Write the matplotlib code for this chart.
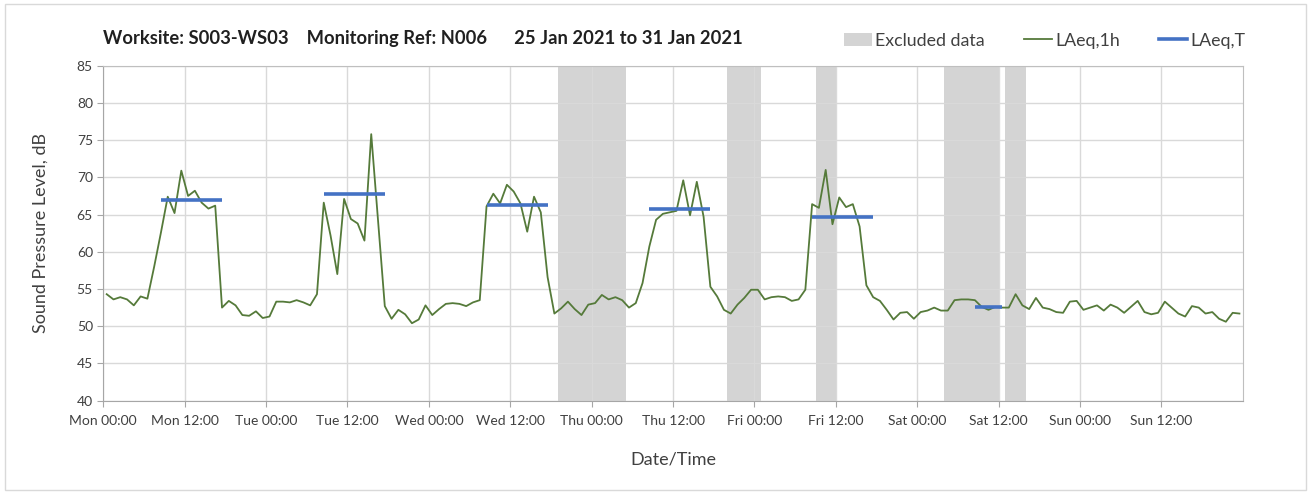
import matplotlib
matplotlib.use("Agg")
import matplotlib.pyplot as plt
from matplotlib.patches import Patch, Rectangle
from matplotlib.lines import Line2D

plt.rcParams['font.family'] = ['Lato', 'DejaVu Sans']

# hourly LAeq,1h values, one list per day (00:00 .. 23:00)
mon = [54.3, 53.6, 53.9, 53.6, 52.8, 54.0, 53.7, 58.0, 62.6, 67.4, 65.2, 70.9,
       67.5, 68.2, 66.6, 65.8, 66.2, 52.5, 53.4, 52.8, 51.5, 51.4, 52.0, 51.1]
tue = [51.3, 53.3, 53.3, 53.2, 53.5, 53.2, 52.8, 54.3, 66.6, 62.2, 57.0, 67.1,
       64.4, 63.8, 61.5, 75.8, 64.3, 52.7, 51.0, 52.2, 51.6, 50.4, 50.9, 52.8]
wed = [51.5, 52.3, 53.0, 53.1, 53.0, 52.7, 53.2, 53.5, 66.1, 67.8, 66.5, 69.0,
       68.1, 66.5, 62.7, 67.4, 65.3, 56.6, 51.7, 52.4, 53.3, 52.3, 51.5, 52.9]
thu = [53.1, 54.2, 53.6, 53.9, 53.5, 52.5, 53.1, 55.8, 60.7, 64.3, 65.1, 65.3,
       65.5, 69.6, 64.9, 69.4, 64.7, 55.3, 54.0, 52.2, 51.7, 52.9, 53.8, 54.9]
fri = [54.9, 53.6, 53.9, 54.0, 53.9, 53.4, 53.6, 54.9, 66.4, 65.9, 71.0, 63.7,
       67.3, 66.0, 66.4, 63.4, 55.5, 53.9, 53.4, 52.2, 50.9, 51.8, 51.9, 51.0]
sat = [51.9, 52.1, 52.5, 52.1, 52.1, 53.5, 53.6, 53.6, 53.5, 52.6, 52.2, 52.6,
       52.5, 52.5, 54.3, 52.8, 52.3, 53.8, 52.5, 52.3, 51.9, 51.8, 53.3, 53.4]
sun = [52.2, 52.5, 52.8, 52.1, 52.9, 52.5, 51.8, 52.6, 53.4, 51.9, 51.6, 51.8,
       53.3, 52.5, 51.7, 51.3, 52.7, 52.5, 51.7, 51.9, 51.0, 50.6, 51.8, 51.7]

# LAeq,T over the working period (start hour, end hour, level)
laeqt_start = [8.5, 32.5, 56.5, 80.5, 104.5, 128.5]
laeqt_end = [17.5, 41.5, 65.5, 89.5, 113.5, 132.5]
laeqt_val = [66.9, 67.7, 66.3, 65.8, 64.7, 52.6]

# excluded data periods (hours from Mon 00:00)
excl_start = [67, 92, 105, 124, 133]
excl_end = [77, 97, 108, 132, 136]

tick_labels = ['Mon 00:00', 'Mon 12:00', 'Tue 00:00', 'Tue 12:00', 'Wed 00:00',
               'Wed 12:00', 'Thu 00:00', 'Thu 12:00', 'Fri 00:00', 'Fri 12:00',
               'Sat 00:00', 'Sat 12:00', 'Sun 00:00', 'Sun 12:00']

levels = mon + tue + wed + thu + fri + sat + sun
hours = [i + 0.5 for i in range(len(levels))]

green = '#557a3a'
blue = '#4472c4'
excl_col = '#d4d4d4'
axis_col = '#a6a6a6'

fig = plt.figure(figsize=(13.11, 4.94), dpi=100)
ax = fig.add_axes([0.0788, 0.189, 0.8692, 0.678])

for s, e in zip(excl_start, excl_end):
    ax.axvspan(s, e, color=excl_col, lw=0, zorder=0.1)

ax.plot(hours, levels, color=green, lw=1.3, zorder=2)
for s, e, v in zip(laeqt_start, laeqt_end, laeqt_val):
    ax.plot([s, e], [v, v], color=blue, lw=2.6, solid_capstyle='butt', zorder=3)

ax.set_xlim(0, 168)
ax.set_ylim(40, 85)
ax.set_xticks(range(0, 168, 12))
ax.set_xticklabels(tick_labels)
ax.set_yticks(range(40, 86, 5))

ax.set_axisbelow(True)
ax.grid(True, color='#d9d9d9', lw=1.0)
for sp in ax.spines.values():
    sp.set_color('#bfbfbf')
ax.spines['left'].set_color(axis_col)
ax.spines['bottom'].set_color(axis_col)
ax.tick_params(axis='both', colors=axis_col, length=4, labelsize=10,
               labelcolor='#404040')
ax.tick_params(axis='x', pad=6)

ax.set_ylabel('Sound Pressure Level, dB', fontsize=13, color='#404040', labelpad=20)
ax.set_xlabel('Date/Time', fontsize=13, color='#404040', labelpad=18)

fig.text(0.0785, 0.922,
         'Worksite: S003-WS03    Monitoring Ref: N006      25 Jan 2021 to 31 Jan 2021',
         fontsize=13.2, fontweight='bold', color='#202020', va='center')

handles = [Patch(facecolor=excl_col, edgecolor='none', label='Excluded data'),
           Line2D([], [], color=green, lw=1.3, label='LAeq,1h'),
           Line2D([], [], color=blue, lw=2.6, label='LAeq,T')]
fig.legend(handles=handles, loc='center right', bbox_to_anchor=(0.962, 0.918),
           ncol=3, frameon=False, fontsize=12.8, handlelength=1.55,
           handletextpad=0.2, columnspacing=2.2, labelcolor='#404040')

fig.patches.append(Rectangle((0.004, 0.008), 0.992, 0.984, transform=fig.transFigure,
                             fill=False, edgecolor='#d9d9d9', lw=1.0))

fig.savefig('out.png', dpi=100)
